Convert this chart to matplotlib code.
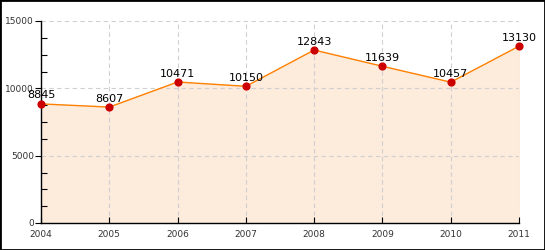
import matplotlib
matplotlib.use("Agg")
import matplotlib.pyplot as plt
from matplotlib.ticker import MultipleLocator
from matplotlib.patches import Rectangle

years = [2004, 2005, 2006, 2007, 2008, 2009, 2010, 2011]
values = [8845, 8607, 10471, 10150, 12843, 11639, 10457, 13130]

fig = plt.figure(figsize=(5.45, 2.5), dpi=100)
ax = fig.add_axes([41 / 545, 1 - 223 / 250, 478 / 545, 202 / 250])

ax.fill_between(years, values, 0, color="#FDEBDC", zorder=1)
ax.plot(years, values, color="#FF8000", lw=1, zorder=3)
ax.scatter(years, values, s=24, color="#CC0000", zorder=7, clip_on=False)

for x, v in zip(years, values):
    ax.annotate(str(v), (x, v), xytext=(0, 2.5), textcoords="offset points",
                ha="center", va="bottom", fontsize=8, color="black", zorder=8)

ax.set_xlim(2004, 2011)
ax.set_ylim(0, 15000)
ax.set_xticks(years)
ax.set_yticks([0, 5000, 10000, 15000])
ax.yaxis.set_minor_locator(MultipleLocator(1250))

ax.grid(True, which="major", color="#D0D0D0", ls=(0, (4, 3)), lw=0.8, zorder=2)

for s in ["top", "right"]:
    ax.spines[s].set_visible(False)
for s in ["left", "bottom"]:
    ax.spines[s].set_color("black")
    ax.spines[s].set_linewidth(1)
    ax.spines[s].set_zorder(6)

ax.tick_params(axis="y", which="major", direction="out", length=4, width=0.8,
               labelsize=6.5, labelcolor="#333333", pad=1)
ax.tick_params(axis="y", which="minor", direction="in", length=4, width=0.8)
ax.tick_params(axis="x", which="major", direction="in", length=4, width=0.8,
               labelsize=6.5, labelcolor="#333333", pad=5)

fig.patches.append(Rectangle((0, 0), 1, 1, transform=fig.transFigure,
                             fill=False, edgecolor="black", lw=2))

fig.savefig("out.png", dpi=100)
